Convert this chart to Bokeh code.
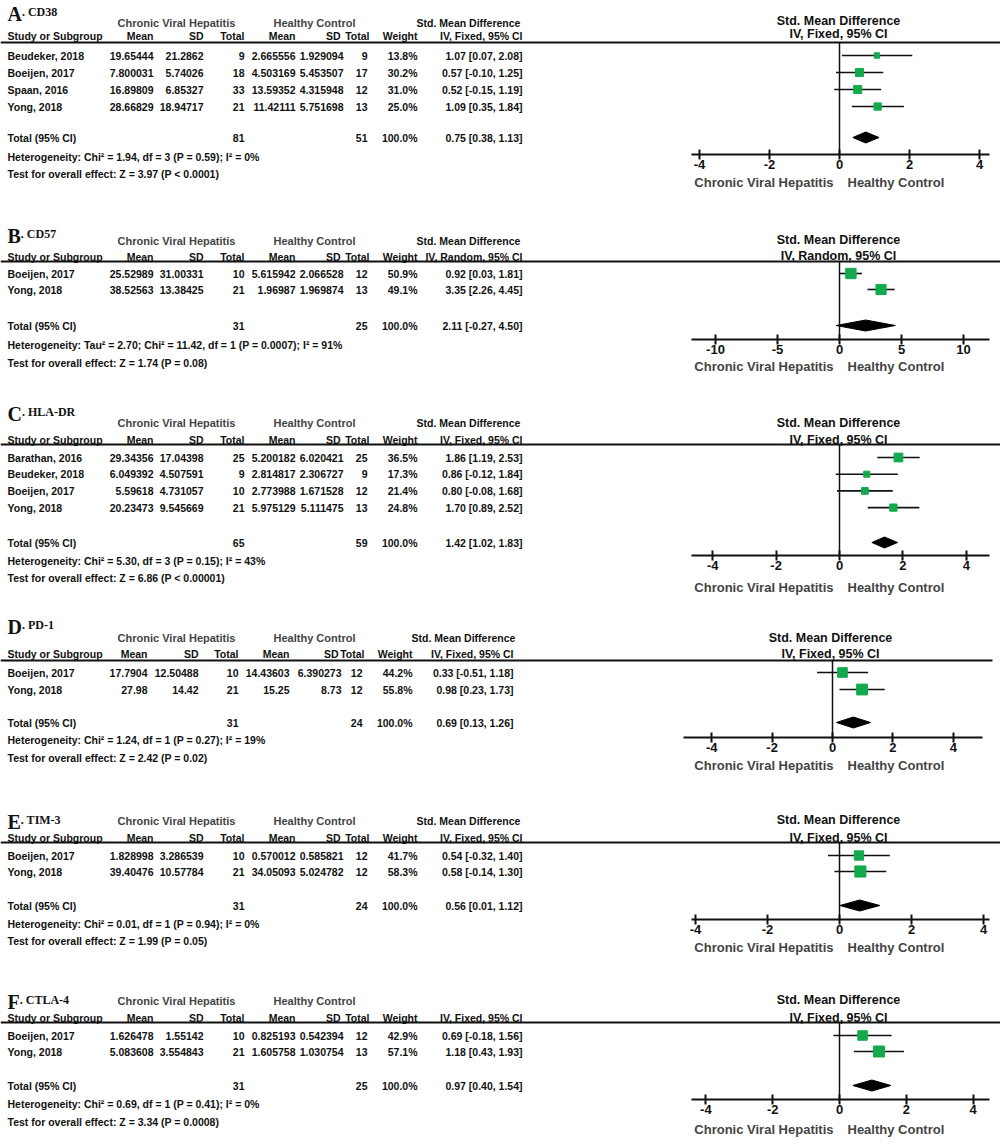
import math
from bokeh.plotting import figure
from bokeh.models import Range1d, LinearAxis, FixedTicker, CustomJSTickFormatter
from bokeh.core.properties import value
from bokeh.embed import file_html
from bokeh.resources import INLINE

# ---------------- data ----------------
A_letter, A_marker, A_method = "A", "CD38", "IV, Fixed, 95% CI"
A_studies = ["Beudeker, 2018", "Boeijen, 2017", "Spaan, 2016", "Yong, 2018"]
A_cvh_mean = [19.65444, 7.800031, 16.89809, 28.66829]
A_cvh_sd = [21.2862, 5.74026, 6.85327, 18.94717]
A_cvh_n = [9, 18, 33, 21]
A_hc_mean = [2.665556, 4.503169, 13.59352, 11.42111]
A_hc_sd = [1.929094, 5.453507, 4.315948, 5.751698]
A_hc_n = [9, 17, 12, 13]
A_weight = [13.8, 30.2, 31.0, 25.0]
A_smd = [1.07, 0.57, 0.52, 1.09]
A_lo = [0.07, -0.10, -0.15, 0.35]
A_hi = [2.08, 1.25, 1.19, 1.84]
A_total_n = [81, 51]
A_total_ci = [0.75, 0.38, 1.13]
A_het = "Heterogeneity: Chi² = 1.94, df = 3 (P = 0.59); I² = 0%"
A_test = "Test for overall effect: Z = 3.97 (P < 0.0001)"
A_ticks = [-4, -2, 0, 2, 4]

B_letter, B_marker, B_method = "B", "CD57", "IV, Random, 95% CI"
B_studies = ["Boeijen, 2017", "Yong, 2018"]
B_cvh_mean = [25.52989, 38.52563]
B_cvh_sd = [31.00331, 13.38425]
B_cvh_n = [10, 21]
B_hc_mean = [5.615942, 1.96987]
B_hc_sd = [2.066528, 1.969874]
B_hc_n = [12, 13]
B_weight = [50.9, 49.1]
B_smd = [0.92, 3.35]
B_lo = [0.03, 2.26]
B_hi = [1.81, 4.45]
B_total_n = [31, 25]
B_total_ci = [2.11, -0.27, 4.50]
B_het = "Heterogeneity: Tau² = 2.70; Chi² = 11.42, df = 1 (P = 0.0007); I² = 91%"
B_test = "Test for overall effect: Z = 1.74 (P = 0.08)"
B_ticks = [-10, -5, 0, 5, 10]

C_letter, C_marker, C_method = "C", "HLA-DR", "IV, Fixed, 95% CI"
C_studies = ["Barathan, 2016", "Beudeker, 2018", "Boeijen, 2017", "Yong, 2018"]
C_cvh_mean = [29.34356, 6.049392, 5.59618, 20.23473]
C_cvh_sd = [17.04398, 4.507591, 4.731057, 9.545669]
C_cvh_n = [25, 9, 10, 21]
C_hc_mean = [5.200182, 2.814817, 2.773988, 5.975129]
C_hc_sd = [6.020421, 2.306727, 1.671528, 5.111475]
C_hc_n = [25, 9, 12, 13]
C_weight = [36.5, 17.3, 21.4, 24.8]
C_smd = [1.86, 0.86, 0.80, 1.70]
C_lo = [1.19, -0.12, -0.08, 0.89]
C_hi = [2.53, 1.84, 1.68, 2.52]
C_total_n = [65, 59]
C_total_ci = [1.42, 1.02, 1.83]
C_het = "Heterogeneity: Chi² = 5.30, df = 3 (P = 0.15); I² = 43%"
C_test = "Test for overall effect: Z = 6.86 (P < 0.00001)"
C_ticks = [-4, -2, 0, 2, 4]

D_letter, D_marker, D_method = "D", "PD-1", "IV, Fixed, 95% CI"
D_studies = ["Boeijen, 2017", "Yong, 2018"]
D_cvh_mean = [17.7904, 27.98]
D_cvh_sd = [12.50488, 14.42]
D_cvh_n = [10, 21]
D_hc_mean = [14.43603, 15.25]
D_hc_sd = [6.390273, 8.73]
D_hc_n = [12, 12]
D_weight = [44.2, 55.8]
D_smd = [0.33, 0.98]
D_lo = [-0.51, 0.23]
D_hi = [1.18, 1.73]
D_total_n = [31, 24]
D_total_ci = [0.69, 0.13, 1.26]
D_het = "Heterogeneity: Chi² = 1.24, df = 1 (P = 0.27); I² = 19%"
D_test = "Test for overall effect: Z = 2.42 (P = 0.02)"
D_ticks = [-4, -2, 0, 2, 4]

E_letter, E_marker, E_method = "E", "TIM-3", "IV, Fixed, 95% CI"
E_studies = ["Boeijen, 2017", "Yong, 2018"]
E_cvh_mean = [1.828998, 39.40476]
E_cvh_sd = [3.286539, 10.57784]
E_cvh_n = [10, 21]
E_hc_mean = [0.570012, 34.05093]
E_hc_sd = [0.585821, 5.024782]
E_hc_n = [12, 12]
E_weight = [41.7, 58.3]
E_smd = [0.54, 0.58]
E_lo = [-0.32, -0.14]
E_hi = [1.40, 1.30]
E_total_n = [31, 24]
E_total_ci = [0.56, 0.01, 1.12]
E_het = "Heterogeneity: Chi² = 0.01, df = 1 (P = 0.94); I² = 0%"
E_test = "Test for overall effect: Z = 1.99 (P = 0.05)"
E_ticks = [-4, -2, 0, 2, 4]

F_letter, F_marker, F_method = "F", "CTLA-4", "IV, Fixed, 95% CI"
F_studies = ["Boeijen, 2017", "Yong, 2018"]
F_cvh_mean = [1.626478, 5.083608]
F_cvh_sd = [1.55142, 3.554843]
F_cvh_n = [10, 21]
F_hc_mean = [0.825193, 1.605758]
F_hc_sd = [0.542394, 1.030754]
F_hc_n = [12, 13]
F_weight = [42.9, 57.1]
F_smd = [0.69, 1.18]
F_lo = [-0.18, 0.43]
F_hi = [1.56, 1.93]
F_total_n = [31, 25]
F_total_ci = [0.97, 0.40, 1.54]
F_het = "Heterogeneity: Chi² = 0.69, df = 1 (P = 0.41); I² = 0%"
F_test = "Test for overall effect: Z = 3.34 (P = 0.0008)"
F_ticks = [-4, -2, 0, 2, 4]

GROUP1 = "Chronic Viral Hepatitis"
GROUP2 = "Healthy Control"
HEAD_COLS = ["Mean", "SD", "Total", "Mean", "SD", "Total", "Weight"]

def panel(letter, marker, method, studies, cm, cs, cn, hm, hs, hn, w, smd, lo, hi, tn, tci, het, test, ticks):
    return dict(letter=letter, marker=marker, method=method, studies=studies, cm=cm, cs=cs, cn=cn,
                hm=hm, hs=hs, hn=hn, w=w, smd=smd, lo=lo, hi=hi, tn=tn, tci=tci, het=het, test=test, ticks=ticks)

panels = [
    panel(A_letter, A_marker, A_method, A_studies, A_cvh_mean, A_cvh_sd, A_cvh_n, A_hc_mean, A_hc_sd, A_hc_n,
          A_weight, A_smd, A_lo, A_hi, A_total_n, A_total_ci, A_het, A_test, A_ticks),
    panel(B_letter, B_marker, B_method, B_studies, B_cvh_mean, B_cvh_sd, B_cvh_n, B_hc_mean, B_hc_sd, B_hc_n,
          B_weight, B_smd, B_lo, B_hi, B_total_n, B_total_ci, B_het, B_test, B_ticks),
    panel(C_letter, C_marker, C_method, C_studies, C_cvh_mean, C_cvh_sd, C_cvh_n, C_hc_mean, C_hc_sd, C_hc_n,
          C_weight, C_smd, C_lo, C_hi, C_total_n, C_total_ci, C_het, C_test, C_ticks),
    panel(D_letter, D_marker, D_method, D_studies, D_cvh_mean, D_cvh_sd, D_cvh_n, D_hc_mean, D_hc_sd, D_hc_n,
          D_weight, D_smd, D_lo, D_hi, D_total_n, D_total_ci, D_het, D_test, D_ticks),
    panel(E_letter, E_marker, E_method, E_studies, E_cvh_mean, E_cvh_sd, E_cvh_n, E_hc_mean, E_hc_sd, E_hc_n,
          E_weight, E_smd, E_lo, E_hi, E_total_n, E_total_ci, E_het, E_test, E_ticks),
    panel(F_letter, F_marker, F_method, F_studies, F_cvh_mean, F_cvh_sd, F_cvh_n, F_hc_mean, F_hc_sd, F_hc_n,
          F_weight, F_smd, F_lo, F_hi, F_total_n, F_total_ci, F_het, F_test, F_ticks),
]

# ---------------- layout (image pixel positions) ----------------
COLS = [153, 203, 244, 295, 343, 367, 417, 522]
COLS_D = [147, 198, 238, 289, 341, 362, 412, 513]
layouts = [
    dict(letter_y=13, group_y=22, head_y=35, line_y=42, row0=55, step=17, total_y=137, het_y=156, test_y=173,
         axis_y=154, label_y=182, zero=839, ppu=35.0, ax=(691, 989), fh1=20, fh2=33, fx=838, cols=COLS, smd_x=468, smd_head=True, line_x1=1000),
    dict(letter_y=235, group_y=240, head_y=256, line_y=261, row0=273, step=16, total_y=325, het_y=344, test_y=362,
         axis_y=339, label_y=366, zero=839, ppu=12.4, ax=(691, 989), fh1=239, fh2=255, fx=838, cols=COLS, smd_x=468, smd_head=True, line_x1=1000),
    dict(letter_y=413, group_y=422, head_y=439, line_y=444, row0=457, step=16.7, total_y=542, het_y=560, test_y=577,
         axis_y=555, label_y=587, zero=839, ppu=31.7, ax=(691, 989), fh1=422, fh2=439, fx=838, cols=COLS, smd_x=468, smd_head=True, line_x1=1000),
    dict(letter_y=626, group_y=637, head_y=653, line_y=660, row0=672, step=17, total_y=722, het_y=739, test_y=757,
         axis_y=737, label_y=765, zero=832, ppu=30.2, ax=(683, 982), fh1=637, fh2=653, fx=830, cols=COLS_D, smd_x=463, smd_head=True, line_x1=992),
    dict(letter_y=821, group_y=820, head_y=837, line_y=842, row0=855, step=16, total_y=905, het_y=923, test_y=940,
         axis_y=919, label_y=947, zero=839, ppu=36.0, ax=(691, 989), fh1=819, fh2=837, fx=838, cols=COLS, smd_x=468, smd_head=True, line_x1=1000),
    dict(letter_y=1001, group_y=1000, head_y=1017, line_y=1022, row0=1035, step=16, total_y=1085, het_y=1103, test_y=1121,
         axis_y=1099, label_y=1129, zero=839, ppu=33.4, ax=(691, 989), fh1=999, fh2=1017, fx=838, cols=COLS, smd_x=468, smd_head=False, line_x1=1000),
]

W, H = 1000, 1144
X0, X1 = 0, W
Y0, Y1 = 0, H

p = figure(width=W, height=H, x_range=Range1d(X0, X1), y_range=Range1d(Y1, Y0),
           x_axis_type=None, y_axis_type=None, toolbar_location=None,
           output_backend="svg", min_border=0, outline_line_color=None,
           background_fill_color="white", border_fill_color="white")

TAB = "Liberation Sans"
SANS = "Liberation Sans"
SERIF = "Liberation Serif"
GREEN = "#13a94d"
INK = "#111111"

STYLES = {
    "tl": (TAB, "10.5px", "left", INK, "middle"),
    "tr": (TAB, "10.5px", "right", INK, "middle"),
    "tc": (TAB, "10.5px", "center", INK, "middle"),
    "grp": (TAB, "11px", "center", "#444444", "middle"),
    "fc": (SANS, "12.5px", "center", INK, "middle"),
    "labr": (SANS, "13px", "right", "#444444", "middle"),
    "labl": (SANS, "13px", "left", "#444444", "middle"),
    "letter": (SERIF, "20px", "left", INK, "alphabetic"),
    "sub": (SERIF, "12px", "left", INK, "alphabetic"),
}
texts = {k: ([], [], []) for k in STYLES}

def add(style, x, y, t):
    xs, ys, ts = texts[style]
    xs.append(x); ys.append(y); ts.append(t)

LETTER_W = {"A": 0.722, "B": 0.667, "C": 0.722, "D": 0.722, "E": 0.667, "F": 0.611}
HEAD_NUDGE = [0, 0, 0, 0, -3, 2, 0, 0]

def ci_text(s, l, h):
    return f"{s:.2f} [{l:.2f}, {h:.2f}]"

for i, (d, L) in enumerate(zip(panels, layouts)):
    name = f"f{i}"
    cols = L["cols"]
    p.extra_x_ranges[name] = Range1d((X0 - L["zero"]) / L["ppu"], (X1 - L["zero"]) / L["ppu"])

    # titles
    add("letter", 7, L["letter_y"], d["letter"])
    add("sub", 7 + LETTER_W[d["letter"]] * 20, L["letter_y"] - 2, ". " + d["marker"])
    add("grp", 176, L["group_y"], GROUP1)
    add("grp", 314, L["group_y"], GROUP2)
    if L["smd_head"]:
        add("tc", L["smd_x"], L["group_y"], "Std. Mean Difference")
    add("tl", 7, L["head_y"], "Study or Subgroup")
    for x, nud, t in zip(cols, HEAD_NUDGE, HEAD_COLS + [d["method"]]):
        add("tr", x + nud, L["head_y"], t)

    # rows
    ys = [L["row0"] + k * L["step"] for k in range(len(d["studies"]))]
    for k, y in enumerate(ys):
        add("tl", 7, y, d["studies"][k])
        vals = [str(d["cm"][k]), str(d["cs"][k]), str(d["cn"][k]), str(d["hm"][k]), str(d["hs"][k]),
                str(d["hn"][k]), f"{d['w'][k]:.1f}%", ci_text(d["smd"][k], d["lo"][k], d["hi"][k])]
        for x, t in zip(cols, vals):
            add("tr", x, y, t)

    ty = L["total_y"]
    add("tl", 7, ty, "Total (95% CI)")
    add("tr", cols[2], ty, str(d["tn"][0]))
    add("tr", cols[5], ty, str(d["tn"][1]))
    add("tr", cols[6], ty, f"{sum(d['w']):.1f}%")
    add("tr", cols[7], ty, ci_text(*d["tci"]))
    add("tl", 7, L["het_y"], d["het"])
    add("tl", 7, L["test_y"], d["test"])

    # forest headers / labels
    add("fc", L["fx"], L["fh1"], "Std. Mean Difference")
    add("fc", L["fx"], L["fh2"], d["method"])
    add("labr", 833, L["label_y"], GROUP1)
    add("labl", 847, L["label_y"], GROUP2)

    # header rule
    p.segment(x0=[0], x1=[L["line_x1"]], y0=[L["line_y"]], y1=[L["line_y"]], line_color=INK, line_width=2)

    # zero line
    p.segment(x0=[0], x1=[0], y0=[L["line_y"]], y1=[L["axis_y"]], x_range_name=name,
              line_color=INK, line_width=1.5)
    # CIs
    p.segment(x0=d["lo"], x1=d["hi"], y0=ys, y1=ys, x_range_name=name, line_color=INK, line_width=1.6)
    # squares
    sizes = [1.45 * math.sqrt(wv) for wv in d["w"]]
    p.scatter(x=d["smd"], y=ys, size=sizes, marker="square", x_range_name=name,
              fill_color=GREEN, line_color=GREEN)
    # diamond
    s, l, h = d["tci"]
    p.patch(x=[l, s, h, s], y=[ty, ty - 5.5, ty, ty + 5.5], x_range_name=name,
            fill_color="black", line_color="black")

    # axis
    b0 = (L["ax"][0] - L["zero"]) / L["ppu"]
    b1 = (L["ax"][1] - L["zero"]) / L["ppu"]
    ax = LinearAxis(x_range_name=name, fixed_location=L["axis_y"], bounds=(b0, b1),
                    ticker=FixedTicker(ticks=d["ticks"], minor_ticks=[]),
                    formatter=CustomJSTickFormatter(code="return String(tick);"),
                    major_tick_in=5, major_tick_out=5, minor_tick_in=0, minor_tick_out=0,
                    axis_line_width=2, axis_line_color=INK,
                    major_tick_line_width=2, major_tick_line_color=INK,
                    major_label_standoff=0,
                    major_label_text_font=SANS, major_label_text_font_style="bold",
                    major_label_text_font_size="13px", major_label_text_color=INK)
    p.add_layout(ax, "below")

for k, (font, size, align, color, base) in STYLES.items():
    xs, ys, ts = texts[k]
    p.text(x=xs, y=ys, text=ts, text_font=value(font), text_font_style="bold",
           text_font_size=size, text_align=align, text_baseline=base, text_color=color)

open("out.html", "w").write(file_html(p, INLINE))
